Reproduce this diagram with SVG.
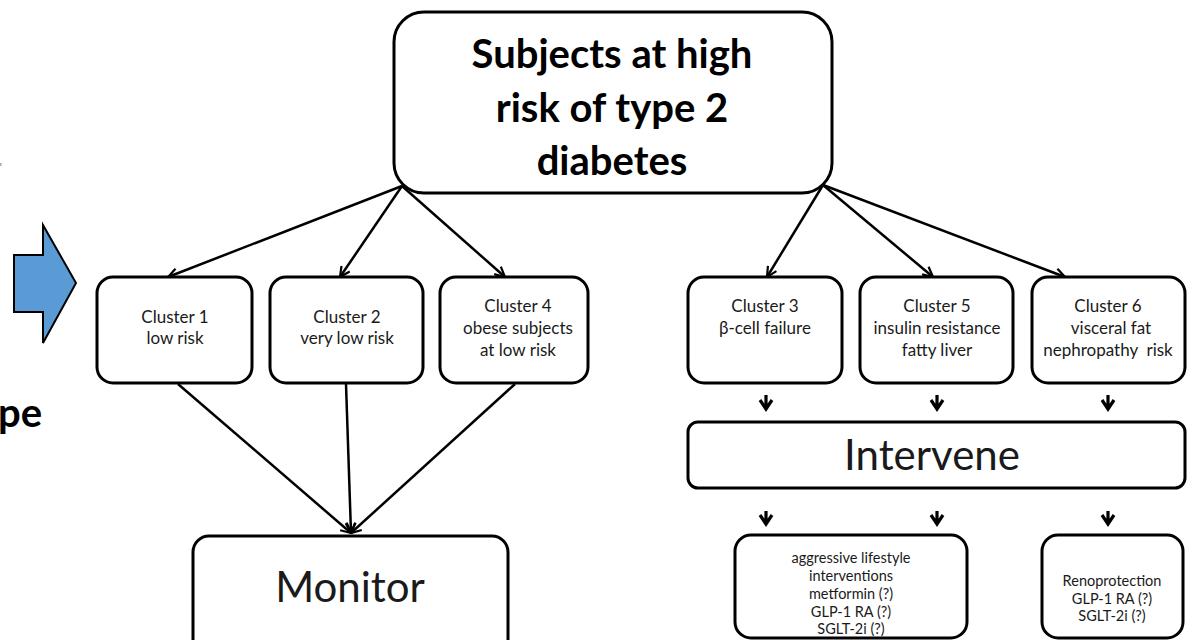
<svg xmlns="http://www.w3.org/2000/svg" width="1198" height="640" viewBox="0 0 1198 640">
<style>
.box{fill:#fff;stroke:#000;stroke-width:3}
.t{font-family:Lato,"Open Sans","Liberation Sans",sans-serif;fill:#1a1a1a;text-anchor:middle}
.c{font-size:17px}
.b{font-size:14.5px}
.title{font-size:40px;font-weight:bold;fill:#000}
.big{font-size:42px}
.conn{stroke:#000;stroke-width:2.5;fill:none}
.sm{stroke:#000;stroke-width:3.2;fill:none}
</style>
<defs>
<marker id="ah" viewBox="0 0 12 12" refX="11" refY="6" markerWidth="12" markerHeight="12" markerUnits="userSpaceOnUse" orient="auto">
<path d="M1,1 L11,6 L1,11" fill="none" stroke="#000" stroke-width="2.2"/>
</marker>
</defs>
<rect width="1198" height="640" fill="#fff"/>
<rect x="0" y="163" width="1.5" height="3" fill="#aaa"/>
<g id="side-arrow">
<path d="M14,255 L43,255 L43,225 L76,283 L43,343 L43,312 L14,312 Z" fill="#5B9BD5" stroke="#000" stroke-width="2"/>
<text x="42" y="427" class="t title" style="text-anchor:end">pe</text>
</g>
<g id="connectors">
<line class="conn" x1="402" y1="186" x2="168" y2="277" marker-end="url(#ah)"/>
<line class="conn" x1="402" y1="186" x2="340" y2="277" marker-end="url(#ah)"/>
<line class="conn" x1="402" y1="186" x2="505" y2="277" marker-end="url(#ah)"/>
<line class="conn" x1="823" y1="185" x2="767" y2="277" marker-end="url(#ah)"/>
<line class="conn" x1="823" y1="185" x2="933" y2="277" marker-end="url(#ah)"/>
<line class="conn" x1="823" y1="185" x2="1065" y2="277" marker-end="url(#ah)"/>
<line class="conn" x1="178" y1="384" x2="351" y2="533" marker-end="url(#ah)"/>
<line class="conn" x1="346" y1="384" x2="351" y2="533" marker-end="url(#ah)"/>
<line class="conn" x1="515" y1="384" x2="351" y2="533" marker-end="url(#ah)"/>
<g class="sm">
<path d="M766,395 V409 M760,400 L766,409 L772,400"/>
<path d="M937,395 V409 M931,400 L937,409 L943,400"/>
<path d="M1108,395 V409 M1102,400 L1108,409 L1114,400"/>
<path d="M766,511 V524 M760,515 L766,524 L772,515"/>
<path d="M937,511 V524 M931,515 L937,524 L943,515"/>
<path d="M1108,511 V524 M1102,515 L1108,524 L1114,515"/>
</g>
</g>
<g id="top">
<rect class="box" x="394" y="12" width="438" height="181" rx="30"/>
<text class="t title" x="612" y="68">Subjects at high</text>
<text class="t title" x="612" y="122">risk of type 2</text>
<text class="t title" x="612" y="175">diabetes</text>
</g>
<g id="cluster1">
<rect class="box" x="97" y="277" width="155" height="106" rx="16"/>
<text class="t c" x="175" y="323">Cluster 1</text>
<text class="t c" x="175" y="344">low risk</text>
</g>
<g id="cluster2">
<rect class="box" x="270" y="277" width="153" height="106" rx="16"/>
<text class="t c" x="347" y="323">Cluster 2</text>
<text class="t c" x="347" y="344">very low risk</text>
</g>
<g id="cluster4">
<rect class="box" x="440" y="277" width="148" height="106" rx="16"/>
<text class="t c" x="518" y="312">Cluster 4</text>
<text class="t c" x="518" y="334">obese subjects</text>
<text class="t c" x="518" y="356">at low risk</text>
</g>
<g id="cluster3">
<rect class="box" x="688" y="277" width="154" height="106" rx="16"/>
<text class="t c" x="765" y="312">Cluster 3</text>
<text class="t c" x="765" y="334">β-cell failure</text>
</g>
<g id="cluster5">
<rect class="box" x="860" y="277" width="153" height="106" rx="16"/>
<text class="t c" x="937" y="312">Cluster 5</text>
<text class="t c" x="937" y="334">insulin resistance</text>
<text class="t c" x="937" y="356">fatty liver</text>
</g>
<g id="cluster6">
<rect class="box" x="1032" y="277" width="153" height="106" rx="16"/>
<text class="t c" x="1108" y="312">Cluster 6</text>
<text class="t c" x="1111" y="334">visceral fat</text>
<text class="t c" x="1108" y="356" xml:space="preserve">nephropathy  risk</text>
</g>
<g id="intervene">
<rect class="box" x="688" y="422" width="497" height="66" rx="10"/>
<text class="t big" x="932" y="470">Intervene</text>
</g>
<g id="monitor">
<rect class="box" x="193" y="536" width="315" height="120" rx="16"/>
<text class="t big" x="350" y="602">Monitor</text>
</g>
<g id="treatment1">
<rect class="box" x="735" y="535" width="232" height="103" rx="16"/>
<text class="t b" x="851" y="563">aggressive lifestyle</text>
<text class="t b" x="851" y="581">interventions</text>
<text class="t b" x="851" y="599">metformin (?)</text>
<text class="t b" x="851" y="617">GLP-1 RA (?)</text>
<text class="t b" x="851" y="634">SGLT-2i (?)</text>
</g>
<g id="treatment2">
<rect class="box" x="1042" y="535" width="141" height="103" rx="16"/>
<text class="t b" x="1112" y="586">Renoprotection</text>
<text class="t b" x="1112" y="604">GLP-1 RA (?)</text>
<text class="t b" x="1112" y="621">SGLT-2i (?)</text>
</g>
</svg>
